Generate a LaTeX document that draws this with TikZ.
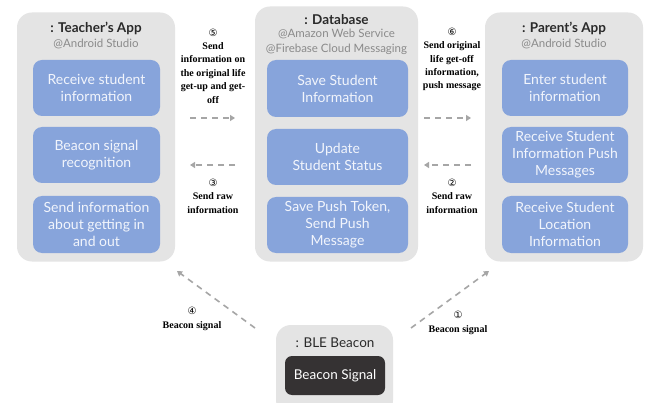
\documentclass[tikz,border=0pt]{standalone}
\usepackage{fontspec}
\setmainfont{Lato}
\newfontfamily\labelfont{Liberation Serif}
\newfontfamily\circfont{DejaVu Sans}
\usetikzlibrary{arrows.meta}

\definecolor{panelgray}{HTML}{E4E4E4}
\definecolor{taskblue}{HTML}{87A4DB}
\definecolor{tasktext}{HTML}{F2F5FC}
\definecolor{titletext}{HTML}{2A2A2A}
\definecolor{subtext}{HTML}{8A8A8A}
\definecolor{arrowgray}{HTML}{A6A6A6}
\definecolor{beacondark}{HTML}{353233}

\tikzset{
  panel/.style={fill=panelgray, draw=none, rounded corners=15pt},
  task/.style={fill=taskblue, draw=none, rounded corners=9pt, text=tasktext,
    font=\fontsize{14}{17}\selectfont, align=center, inner sep=0pt},
  darktask/.style={fill=beacondark, draw=none, rounded corners=7pt, text=white,
    font=\fontsize{13.5}{16}\selectfont, align=center, inner sep=0pt},
  paneltitle/.style={text=titletext, font=\fontsize{13.5}{16}\selectfont\bfseries, inner sep=0pt},
  panelsub/.style={text=subtext, font=\fontsize{11.5}{14.5}\selectfont, align=center, inner sep=0pt},
  steplabel/.style={font=\labelfont\bfseries\fontsize{10}{13.4}\selectfont, align=center,
    text=black, inner sep=0pt},
  flow/.style={draw=arrowgray, line width=1.6pt, dash pattern=on 6pt off 5pt,
    -{Triangle[length=5pt,width=6pt]}},
}
\newcommand{\circnum}[1]{{\circfont\mdseries\fontsize{10}{10}\selectfont #1}}

\begin{document}
\begin{tikzpicture}[x=1pt,y=-1pt]
\useasboundingbox (0,0) rectangle (647,403);
\fill[white] (0,0) rectangle (647,403);

% ---- Teacher's App ----
\node[panel, minimum width=158pt, minimum height=249pt] (teacher) at (96,137) {};
\node[paneltitle] (teacherTitle) at (96,28) {: Teacher's App};
\node[panelsub] (teacherSub) at (96,44) {@Android Studio};
\node[task, minimum width=127pt, minimum height=56pt] (t1) at (96.5,88) {Receive student\\information};
\node[task, minimum width=127pt, minimum height=56pt] (t2) at (96.5,155) {Beacon signal\\recognition};
\node[task, minimum width=127pt, minimum height=57pt] (t3) at (96.5,224.5) {Send information\\about getting in\\and out};

% ---- Database ----
\node[panel, minimum width=163pt, minimum height=255pt] (db) at (336.5,134) {};
\node[paneltitle] (dbTitle) at (336.5,20) {: Database};
\node[panelsub] (dbSub) at (336.5,42) {@Amazon Web Service\\@Firebase Cloud Messaging};
\node[task, minimum width=141pt, minimum height=57pt] (d1) at (337.5,88.5) {Save Student\\Information};
\node[task, minimum width=141pt, minimum height=56pt] (d2) at (337.5,157) {Update\\Student Status};
\node[task, minimum width=141pt, minimum height=56pt] (d3) at (337.5,225) {Save Push Token,\\Send Push\\Message};

% ---- Parent's App ----
\node[panel, minimum width=158pt, minimum height=249pt] (parent) at (564,137) {};
\node[paneltitle] (parentTitle) at (564,28) {: Parent's App};
\node[panelsub] (parentSub) at (564,44) {@Android Studio};
\node[task, minimum width=126pt, minimum height=56pt] (p1) at (565,88) {Enter student\\information};
\node[task, minimum width=126pt, minimum height=56pt] (p2) at (565,155) {Receive Student\\Information Push\\Messages};
\node[task, minimum width=126pt, minimum height=57pt] (p3) at (565,224.5) {Receive Student\\Location\\Information};

% ---- BLE Beacon ----
\node[panel, minimum width=117pt, minimum height=90pt] (beacon) at (334.5,370) {};
\node[paneltitle, font=\fontsize{13.5}{16}\selectfont] (beaconTitle) at (335,343) {: BLE Beacon};
\node[darktask, minimum width=100pt, minimum height=39pt] (b1) at (335,375.5) {Beacon Signal};

% ---- arrow end points ----
\coordinate (tdA) at (190,118);
\coordinate (tdB) at (235,118);
\coordinate (dtA) at (235,165);
\coordinate (dtB) at (190,165);
\coordinate (dpA) at (424,118);
\coordinate (dpB) at (471,118);
\coordinate (pdA) at (471,165);
\coordinate (pdB) at (424,165);
\coordinate (btA) at (255,328);
\coordinate (btB) at (177,271);
\coordinate (bpA) at (411,328);
\coordinate (bpB) at (489,271);

\draw[flow] (tdA) -- (tdB);
\draw[flow] (dtA) -- (dtB);
\draw[flow] (dpA) -- (dpB);
\draw[flow] (pdA) -- (pdB);
\draw[flow] (btA) -- (btB);
\draw[flow] (bpA) -- (bpB);

% ---- step labels ----
\node[steplabel] (l5) at (213,66) {\circnum{⑤}\\Send\\information on\\the original life\\get-up and get-\\off};
\node[steplabel] (l3) at (213,196) {\circnum{③}\\Send raw\\information};
\node[steplabel] (l6) at (452,59.5) {\circnum{⑥}\\Send original\\life get-off\\information,\\push message};
\node[steplabel] (l2) at (452,196) {\circnum{②}\\Send raw\\information};
\node[steplabel] (l4) at (192,319) {\circnum{④}\\Beacon signal};
\node[steplabel] (l1) at (458,323) {\circnum{①}\\Beacon signal};
\end{tikzpicture}
\end{document}
